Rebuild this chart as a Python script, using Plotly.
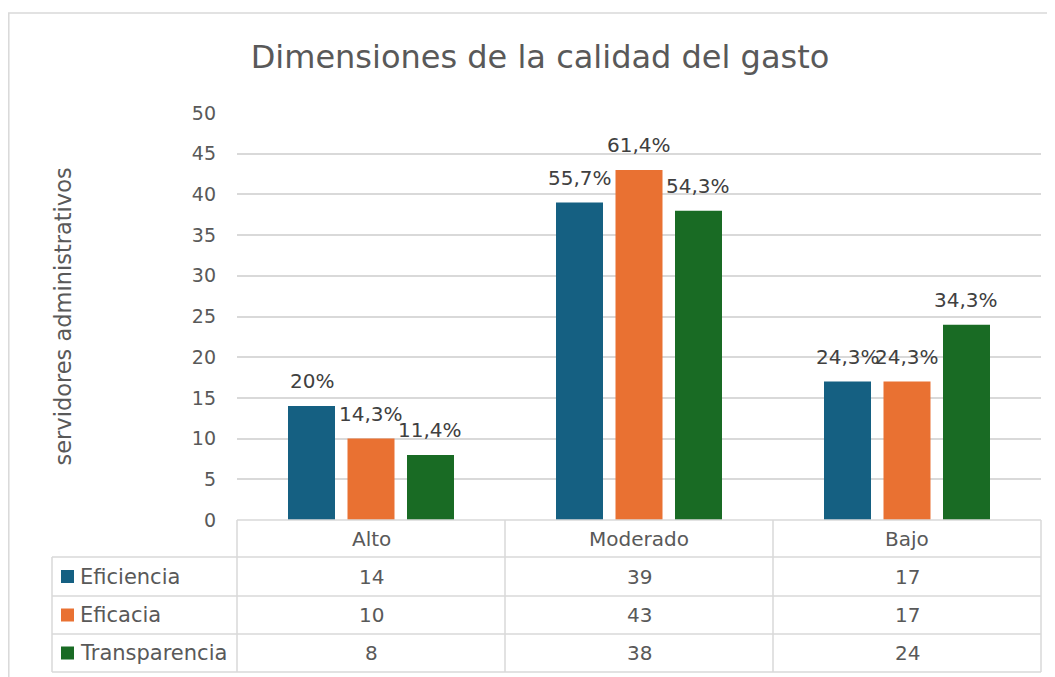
import plotly.graph_objects as go

categories = ["Alto", "Moderado", "Bajo"]
series_names = ["Eficiencia", "Eficacia", "Transparencia"]
eficiencia = [14, 39, 17]
eficacia = [10, 43, 17]
transparencia = [8, 38, 24]
labels_eficiencia = ["20%", "55,7%", "24,3%"]
labels_eficacia = ["14,3%", "61,4%", "24,3%"]
labels_transparencia = ["11,4%", "54,3%", "34,3%"]
colors = ["#156082", "#E97132", "#196B24"]
y_ticks = [0, 5, 10, 15, 20, 25, 30, 35, 40, 45, 50]

series_values = [eficiencia, eficacia, transparencia]
series_labels = [labels_eficiencia, labels_eficacia, labels_transparencia]

# the page puts the figure 8px in from the top-left corner
OFF = 8
W, H = 1055 - OFF, 677 - OFF
# plot area in page pixels: x 237..1041, y 113..520
L, R, T, B = 237 - OFF, 1055 - 1041, 113 - OFF, 677 - 520
BARGAP = 0.334
BARGROUPGAP = 0.21

TEXT = "#595959"
GRID = "#D9D9D9"
FONT = "DejaVu Sans, Arial, sans-serif"


def px_x(px):
    # page pixel -> paper x
    return (px - OFF - L) / (W - L - R)


def px_y(py):
    # page pixel -> paper y
    return (H - B - (py - OFF)) / (H - T - B)


fig = go.Figure()
for name, vals, col in zip(series_names, series_values, colors):
    fig.add_trace(
        go.Bar(
            x=categories,
            y=vals,
            name=name,
            marker=dict(color=col, line=dict(width=0)),
            showlegend=False,
            hovertemplate="%{x}<br>" + name + ": %{y}<extra></extra>",
        )
    )

# percentage labels above the bars
cat_px = (W - L - R) / len(categories)
slot_px = cat_px * (1 - BARGAP) / len(series_names)
annotations = []
for i, labs in enumerate(series_labels):
    for cat, val, lab in zip(categories, series_values[i], labs):
        annotations.append(
            dict(
                x=cat, y=val, xref="x", yref="y", text=lab, showarrow=False,
                xshift=(i - 1) * slot_px, yshift=25, yanchor="middle",
                font=dict(family=FONT, size=20, color="#404040"),
            )
        )

# y axis title
annotations.append(
    dict(
        x=px_x(62), y=0.5, xref="paper", yref="paper", text="servidores administrativos",
        textangle=-90, showarrow=False, xanchor="center", yanchor="middle",
        font=dict(family=FONT, size=22.5, color=TEXT),
    )
)

# data table below the chart
row_lines = [520, 557, 596, 634, 672]
shapes = []
line_style = dict(color=GRID, width=1.5)
shapes.append(dict(type="line", xref="paper", yref="paper", x0=px_x(237), x1=px_x(1041),
                   y0=px_y(520), y1=px_y(520), line=line_style))
for py in row_lines[1:]:
    shapes.append(dict(type="line", xref="paper", yref="paper", x0=px_x(52), x1=px_x(1041),
                       y0=px_y(py), y1=px_y(py), line=line_style))
shapes.append(dict(type="line", xref="paper", yref="paper", x0=px_x(52), x1=px_x(52),
                   y0=px_y(557), y1=px_y(672), line=line_style))
for k in range(len(categories) + 1):
    xp = px_x(237 + k * cat_px)
    shapes.append(dict(type="line", xref="paper", yref="paper", x0=xp, x1=xp,
                       y0=px_y(520), y1=px_y(672), line=line_style))

for cat in categories:
    annotations.append(
        dict(x=cat, y=px_y(539), xref="x", yref="paper", text=cat, showarrow=False,
             yanchor="middle", font=dict(family=FONT, size=20, color=TEXT))
    )
for r, (name, vals, col) in enumerate(zip(series_names, series_values, colors)):
    yc = (row_lines[r + 1] + row_lines[r + 2]) / 2
    shapes.append(dict(type="rect", xref="paper", yref="paper", x0=px_x(61), x1=px_x(74),
                       y0=px_y(yc + 6.5), y1=px_y(yc - 6.5), fillcolor=col, line=dict(width=0)))
    annotations.append(
        dict(x=px_x(78), y=px_y(yc), xref="paper", yref="paper", text=name, showarrow=False,
             xanchor="left", yanchor="middle", font=dict(family=FONT, size=21, color=TEXT))
    )
    for cat, v in zip(categories, vals):
        annotations.append(
            dict(x=cat, y=px_y(yc), xref="x", yref="paper", text=str(v), showarrow=False,
                 yanchor="middle", font=dict(family=FONT, size=20, color=TEXT))
        )

# outer chart border (left edge sits at the page edge of the figure)
shapes.append(dict(type="rect", xref="paper", yref="paper", x0=px_x(8.8), x1=px_x(1070),
                   y0=px_y(13), y1=px_y(700), line=dict(color=GRID, width=1.5)))

fig.update_layout(
    width=W,
    height=H,
    margin=dict(l=L, r=R, t=T, b=B, autoexpand=False),
    title=dict(
        text="Dimensiones de la calidad del gasto",
        x=(540 - OFF) / W, xref="container", xanchor="center",
        y=1 - (57 - OFF) / H, yref="container", yanchor="middle",
        font=dict(family=FONT, size=32, color=TEXT),
    ),
    font=dict(family=FONT, size=20, color=TEXT),
    plot_bgcolor="white",
    paper_bgcolor="white",
    barmode="group",
    bargap=BARGAP,
    bargroupgap=BARGROUPGAP,
    shapes=shapes,
    annotations=annotations,
)
fig.update_xaxes(showticklabels=False, showgrid=False, zeroline=False, showline=False,
                 range=[-0.5, 2.5])
fig.update_yaxes(
    range=[0, 50], tickvals=y_ticks, showgrid=True, gridcolor=GRID, gridwidth=1.5,
    zeroline=False, showline=False, ticks="", ticklabelstandoff=20,
    tickfont=dict(family=FONT, size=19, color=TEXT),
)

fig.write_html("out.html")
